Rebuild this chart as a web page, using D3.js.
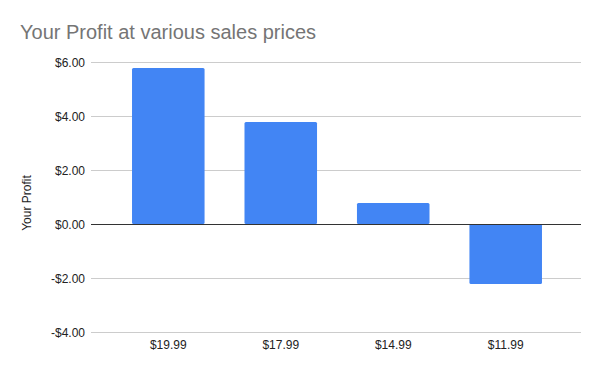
<!DOCTYPE html>
<html>
<head>
<meta charset="utf-8">
<script src="https://cdn.jsdelivr.net/npm/d3@7"></script>
<style>
  body { margin: 0; background: #fff; }
  svg { font-family: "Liberation Sans", Arial, sans-serif; }
</style>
</head>
<body>
<div class="chart"></div>
<script>
// chart data
const prices = ["$19.99", "$17.99", "$14.99", "$11.99"];
const profits = [5.78, 3.78, 0.78, -2.22];
const yTicks = [-4, -2, 0, 2, 4, 6];

const svgWidth = 600, svgHeight = 371;

const svg = d3.select(".chart").append("svg")
    .attr("width", svgWidth)
    .attr("height", svgHeight);

// title
svg.append("text")
    .attr("x", 20)
    .attr("y", 39)
    .attr("fill", "#757575")
    .style("font-size", "20px")
    .text("Your Profit at various sales prices");

// scales
const x = d3.scaleBand()
    .domain(prices)
    .range([112, 562])
    .paddingInner(0.355)
    .paddingOuter(0.178);

const y = d3.scaleLinear()
    .domain([-4, 6])
    .range([332, 62]);

const gridLeft = 91, gridRight = 581;

// gridlines
svg.append("g")
    .selectAll("line")
    .data(yTicks.filter(d => d !== 0))
    .join("line")
    .attr("x1", gridLeft)
    .attr("x2", gridRight)
    .attr("y1", d => Math.round(y(d)) + 0.5)
    .attr("y2", d => Math.round(y(d)) + 0.5)
    .attr("stroke", "#cccccc")
    .attr("stroke-width", 1);

// y tick labels
svg.append("g")
    .selectAll("text")
    .data(yTicks)
    .join("text")
    .attr("x", 85)
    .attr("y", d => y(d) + 4.5)
    .attr("text-anchor", "end")
    .attr("fill", "#222")
    .style("font-size", "12px")
    .text(d => (d < 0 ? "-$" : "$") + Math.abs(d).toFixed(2));

// y axis title
svg.append("text")
    .attr("transform", `translate(30.5, ${(y(6) + y(-4)) / 2 + 6}) rotate(-90)`)
    .attr("text-anchor", "middle")
    .attr("fill", "#222")
    .style("font-size", "12px")
    .text("Your Profit");

// bars
svg.append("g")
    .selectAll("rect")
    .data(profits)
    .join("rect")
    .attr("x", (d, i) => x(prices[i]))
    .attr("width", x.bandwidth())
    .attr("y", d => y(Math.max(0, d)))
    .attr("height", d => Math.abs(y(d) - y(0)))
    .attr("rx", 1.5)
    .attr("fill", "#4285f4");

// zero line
svg.append("line")
    .attr("x1", gridLeft)
    .attr("x2", gridRight)
    .attr("y1", Math.round(y(0)) + 0.5)
    .attr("y2", Math.round(y(0)) + 0.5)
    .attr("stroke", "#333333")
    .attr("stroke-width", 1);

// x labels
svg.append("g")
    .selectAll("text")
    .data(prices)
    .join("text")
    .attr("x", d => x(d) + x.bandwidth() / 2)
    .attr("y", 349)
    .attr("text-anchor", "middle")
    .attr("fill", "#222")
    .style("font-size", "12px")
    .text(d => d);
</script>
</body>
</html>
